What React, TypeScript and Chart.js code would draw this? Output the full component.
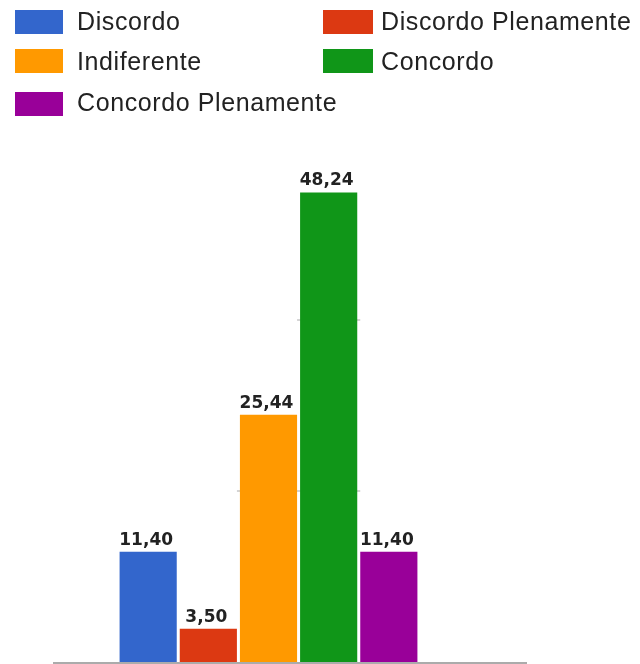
import React, { useEffect, useRef } from "react";
import { Chart, registerables } from "chart.js";

Chart.register(...registerables);

// Survey answers, one bar per answer
const seriesNames = [
  "Discordo",
  "Discordo Plenamente",
  "Indiferente",
  "Concordo",
  "Concordo Plenamente",
];
const seriesValues = [11.4, 3.5, 25.44, 48.24, 11.4];
const seriesColors = ["#3366cc", "#dc3912", "#ff9900", "#109618", "#990099"];
const categories = [""];
const yMax = 52.8;
const gridValues = [17.6, 35.2];

const formatValue = (v: number) => v.toFixed(2).replace(".", ",");

// Faint grid segments that only show around the bars taller than the line
const partialGrid = {
  id: "partialGrid",
  beforeDatasetsDraw(chart: any) {
    const { ctx } = chart;
    const y = chart.scales.y;
    gridValues.forEach((v) => {
      let l = Infinity;
      let r = -Infinity;
      chart.data.datasets.forEach((ds: any, i: number) => {
        const bar: any = chart.getDatasetMeta(i).data[0];
        if (ds.data[0] > v) {
          l = Math.min(l, bar.x - bar.width / 2);
          r = Math.max(r, bar.x + bar.width / 2);
        }
      });
      if (l < r) {
        const py = Math.round(y.getPixelForValue(v));
        ctx.save();
        ctx.strokeStyle = "#d4d4d4";
        ctx.lineWidth = 2;
        ctx.beginPath();
        ctx.moveTo(l - 3, py);
        ctx.lineTo(r + 3, py);
        ctx.stroke();
        ctx.restore();
      }
    });
  },
};

// Base line under the bars
const baseLine = {
  id: "baseLine",
  afterDatasetsDraw(chart: any) {
    const { ctx, chartArea } = chart;
    ctx.save();
    ctx.strokeStyle = "#ababab";
    ctx.lineWidth = 2;
    ctx.beginPath();
    ctx.moveTo(chartArea.left, chartArea.bottom);
    ctx.lineTo(chartArea.right + 43, chartArea.bottom);
    ctx.stroke();
    ctx.restore();
  },
};

// Value labels above each bar
const valueLabels = {
  id: "valueLabels",
  afterDatasetsDraw(chart: any) {
    const { ctx } = chart;
    ctx.save();
    ctx.font = "bold 17px 'DejaVu Sans', Verdana, sans-serif";
    ctx.fillStyle = "#222222";
    ctx.textAlign = "center";
    ctx.textBaseline = "alphabetic";
    chart.data.datasets.forEach((ds: any, i: number) => {
      const bar: any = chart.getDatasetMeta(i).data[0];
      ctx.fillText(formatValue(ds.data[0]), bar.x - 2, bar.y - 7);
    });
    ctx.restore();
  },
};

const legendRows = [
  { top: 10, textTop: 9 },
  { top: 49, textTop: 49 },
  { top: 92, textTop: 90 },
];
const legendCols = [
  { swatchLeft: 15, swatchWidth: 48, textLeft: 77 },
  { swatchLeft: 323, swatchWidth: 50, textLeft: 381 },
];

export default function App() {
  const canvasRef = useRef<HTMLCanvasElement | null>(null);

  useEffect(() => {
    if (!canvasRef.current) return;
    const chart = new Chart(canvasRef.current, {
      type: "bar",
      data: {
        labels: categories,
        datasets: seriesNames.map((name, i) => ({
          label: name,
          data: [seriesValues[i]],
          backgroundColor: seriesColors[i],
          borderWidth: 0,
          categoryPercentage: 0.698,
          barPercentage: 0.95,
        })),
      },
      options: {
        responsive: false,
        animation: false,
        layout: { padding: { left: 53, right: 156, top: 148, bottom: 1 } },
        scales: {
          x: { display: false },
          y: { display: false, min: 0, max: yMax },
        },
        plugins: {
          legend: { display: false },
          tooltip: { enabled: false },
        },
      },
      plugins: [partialGrid, baseLine, valueLabels],
    });
    return () => chart.destroy();
  }, []);

  return (
    <div
      style={{
        position: "absolute",
        left: 0,
        top: 0,
        width: 640,
        height: 664,
        background: "#ffffff",
        overflow: "hidden",
      }}
    >
      <canvas
        ref={canvasRef}
        width={640}
        height={664}
        style={{ position: "absolute", left: 0, top: 0 }}
      />
      {seriesNames.map((name, i) => {
        const row = legendRows[Math.floor(i / 2)];
        const col = legendCols[i % 2];
        return (
          <React.Fragment key={name}>
            <div
              style={{
                position: "absolute",
                left: col.swatchLeft,
                top: row.top,
                width: col.swatchWidth,
                height: 24,
                background: seriesColors[i],
              }}
            />
            <div
              style={{
                position: "absolute",
                left: col.textLeft,
                top: row.textTop,
                font: "25px 'Liberation Sans', Arial, sans-serif",
                lineHeight: "25px",
                letterSpacing: "0.6px",
                color: "#222222",
                whiteSpace: "nowrap",
              }}
            >
              {name}
            </div>
          </React.Fragment>
        );
      })}
    </div>
  );
}
